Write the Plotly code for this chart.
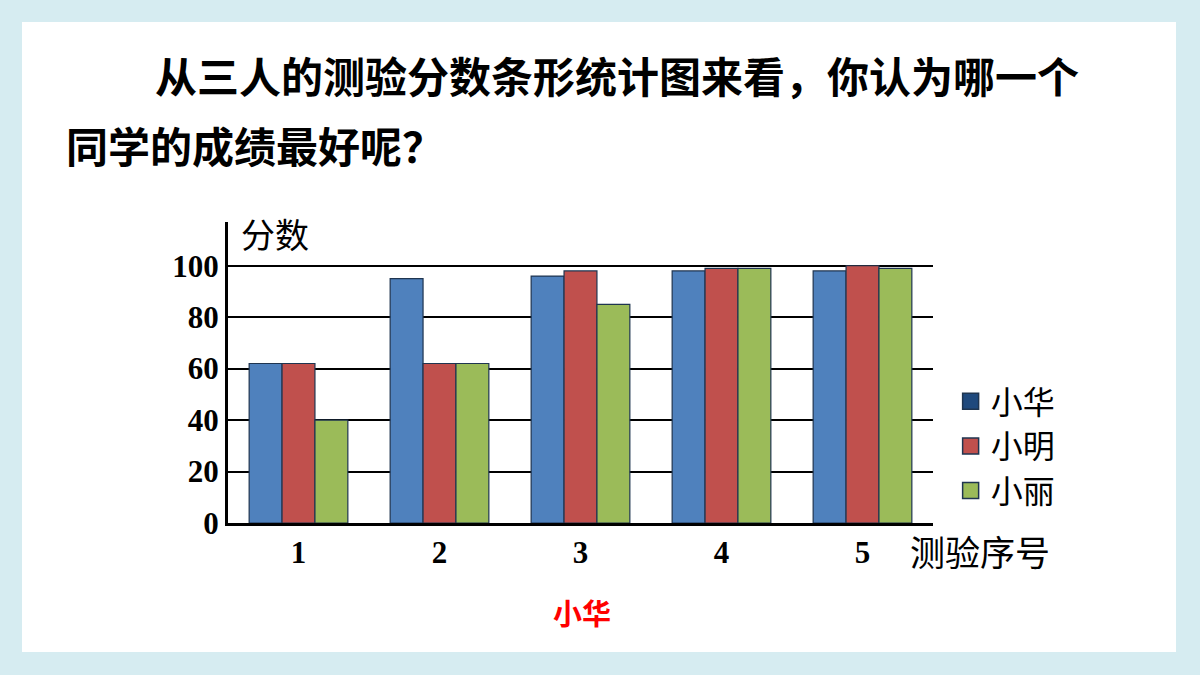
import plotly.graph_objects as go

# 测验序号 and scores
tests = ["1", "2", "3", "4", "5"]
xiaohua = [62, 95, 96, 98, 98]
xiaoming = [62, 62, 98, 99, 100]
xiaoli = [40, 62, 85, 99, 99]

names = ["小华", "小明", "小丽"]
bar_colors = ["#4F81BD", "#C0504D", "#9BBB59"]
legend_colors = ["#1F497D", "#C0504D", "#9BBB59"]

y_ticks = [0, 20, 40, 60, 80, 100]

CJK = "Noto Sans CJK SC"
SERIF = "Liberation Serif"

fig = go.Figure()
for name, vals, col in zip(names, [xiaohua, xiaoming, xiaoli], bar_colors):
    fig.add_trace(go.Bar(
        x=tests, y=vals, name=name, showlegend=False,
        marker=dict(color=col, line=dict(color="#1F3550", width=1.2)),
    ))

# legend-only entries (legend swatch colours differ a bit from the bars)
for name, col in zip(names, legend_colors):
    fig.add_trace(go.Scatter(
        x=[None], y=[None], mode="markers", name=name,
        marker=dict(symbol="square", size=24, color=col,
                    line=dict(color="#1F3550", width=1.5)),
    ))

fig.update_layout(
    width=1200, height=675,
    margin=dict(l=228, r=267, t=222, b=152),
    paper_bgcolor="#D6ECF1",
    plot_bgcolor="white",
    barmode="group", bargap=0.3, bargroupgap=0,
    font=dict(family=CJK, color="black"),
    legend=dict(x=1.025, y=0.495, xanchor="left", yanchor="top",
                font=dict(family=CJK, size=32), itemsizing="trace",
                tracegroupgap=4, bgcolor="rgba(0,0,0,0)"),
    shapes=[dict(type="rect", xref="paper", yref="paper",
                 x0=-0.2922, x1=1.3447, y0=-0.4286, y1=1.6645,
                 fillcolor="white", line=dict(width=0), layer="below")],
)

fig.update_xaxes(
    type="category", range=[-0.5, 4.5],
    showline=True, linecolor="black", linewidth=3,
    showgrid=False, ticks="outside", ticklen=0, tickcolor="rgba(0,0,0,0)",
    tickfont=dict(family=SERIF, size=31, color="black"),
    ticktext=["<b>%s</b>" % t for t in tests], tickvals=tests,
)
fig.update_yaxes(
    range=[0, 117], tickvals=y_ticks,
    ticktext=["<b>%d</b>" % v for v in y_ticks],
    tickfont=dict(family=SERIF, size=31, color="black"),
    showline=True, linecolor="black", linewidth=3,
    showgrid=True, gridcolor="black", gridwidth=2, zeroline=False,
)

ann = [
    dict(text="<b>从三人的测验分数条形统计图来看，你认为哪一个</b>",
         x=-0.106, y=1.49, xanchor="left", yanchor="middle",
         font=dict(size=42)),
    dict(text="<b>同学的成绩最好呢？</b>",
         x=-0.232, y=1.258, xanchor="left", yanchor="middle",
         font=dict(size=42)),
    dict(text="分数", x=0.016, y=0.963, xanchor="left", yanchor="middle",
         font=dict(size=34)),
    dict(text="测验序号", x=0.965, y=-0.09, xanchor="left", yanchor="middle",
         font=dict(size=35)),
    dict(text="<b>小华</b>", x=0.502, y=-0.296, xanchor="center", yanchor="middle",
         font=dict(size=29, color="#FF0000")),
]
for a in ann:
    fig.add_annotation(xref="paper", yref="paper", showarrow=False, **a)

# page body has a default 8px margin; drop it so the figure sits at 0,0
fig.write_html("out.html", config={"displayModeBar": False},
               post_script="document.body.style.margin='0';")
